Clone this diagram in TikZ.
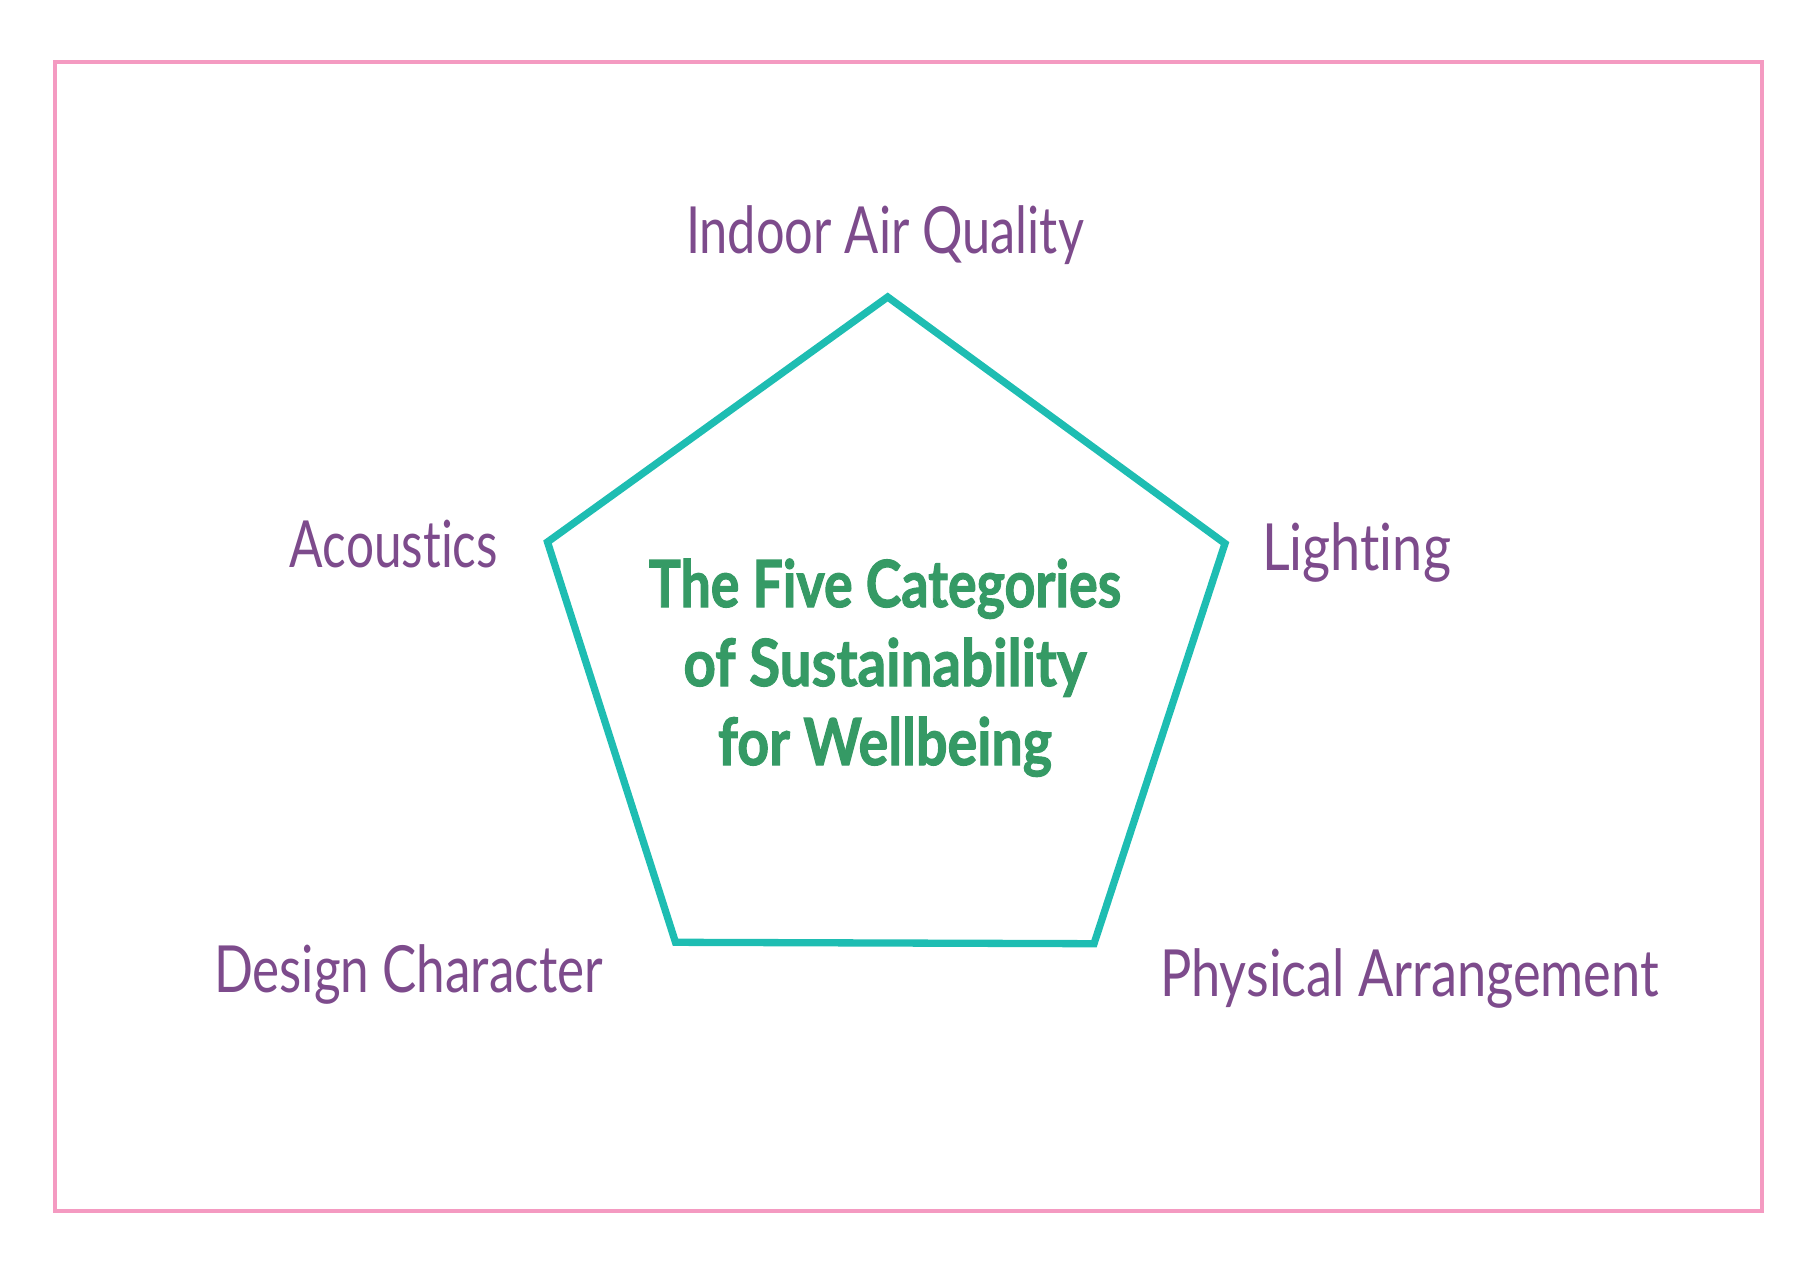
\documentclass[tikz,border=0pt]{standalone}
\usepackage{fontspec}
\setmainfont{Lato}[Ligatures={NoCommon}]
\newfontfamily\heavyfont{Lato}[Ligatures={NoCommon},BoldFeatures={FakeBold=1.8}]
\usepackage{graphicx}
\definecolor{labelpurple}{RGB}{125,75,140}
\definecolor{titlegreen}{RGB}{53,154,101}
\definecolor{penteal}{RGB}{30,189,178}
\definecolor{framepink}{RGB}{244,154,193}
\newcommand\fitw[2]{\resizebox{#1pt}{\height}{#2}}
\newcommand\nolig{\kern0pt }
\tikzset{
  framebox/.style={draw=framepink, line width=4pt},
  pentline/.style={draw=penteal, line width=7.3pt, line join=miter},
  catlabel/.style={text=labelpurple, font=\fontsize{65}{79}\selectfont, inner sep=0pt, anchor=base},
  titletext/.style={text=titlegreen, font=\fontsize{65}{79}\selectfont\heavyfont\bfseries, inner sep=0pt, align=center, anchor=base}
}
\begin{document}
\begin{tikzpicture}[x=1pt,y=-1pt]
\useasboundingbox (0,0) rectangle (1816,1265);
\draw[framebox] (54.7,62) rectangle (1762,1210.7);
\coordinate (pT) at (887.7,297);
\coordinate (pR) at (1225,543.5);
\coordinate (pBR) at (1094,943.7);
\coordinate (pBL) at (675.5,942.3);
\coordinate (pL) at (547.5,542);
\draw[pentline] (pT) -- (pR) -- (pBR) -- (pBL) -- (pL) -- cycle;
\node[catlabel] (iaq) at (885,254) {\fitw{398}{Indoor Air Quality}};
\node[catlabel] (acou) at (394,567) {\fitw{208}{Acoust\nolig ics}};
\node[catlabel] (light) at (1356.5,570) {\fitw{189}{Light\nolig ing}};
\node[catlabel] (design) at (408.5,992) {\fitw{389}{Design Character}};
\node[catlabel] (phys) at (1409.5,996) {\fitw{499}{Physical Arrangement}};
\node[titletext] (title) at (885,765) {\fitw{472.5}{The Five Categories}\\\fitw{403}{of Sustainability}\\\fitw{334}{for Wellbeing}};
\end{tikzpicture}
\end{document}
